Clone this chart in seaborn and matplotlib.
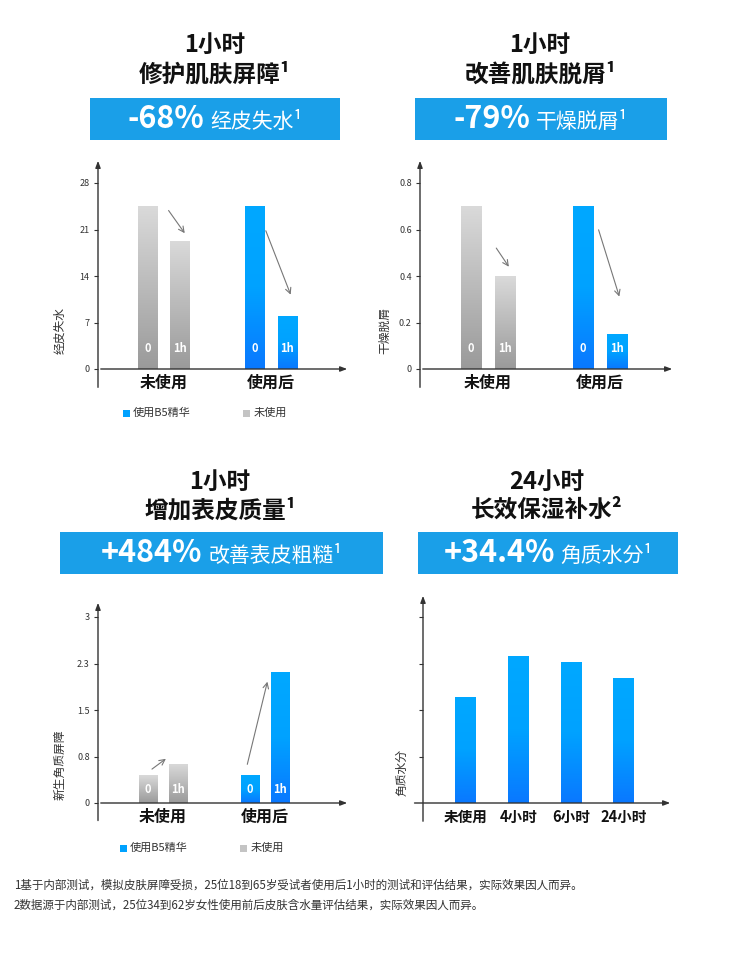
import numpy as np
import pandas as pd
import matplotlib
matplotlib.use("Agg")
import matplotlib.pyplot as plt
from matplotlib import font_manager
import seaborn as sns
from matplotlib.colors import LinearSegmentedColormap
from matplotlib.offsetbox import TextArea, HPacker, AnnotationBbox

_names = sorted({f.name for f in font_manager.fontManager.ttflist if "CJK" in f.name})
_pref = [n for n in ["Noto Sans CJK SC", "Noto Sans CJK JP", "Noto Sans CJK TC",
                     "Noto Sans CJK KR"] if n in _names] + _names
FAMILY = (_pref[:1] if _pref else []) + ["DejaVu Sans"]
plt.rcParams["font.family"] = FAMILY
plt.rcParams["font.sans-serif"] = FAMILY

# ---------------- data ----------------
groups = ["未使用", "使用后"]
times = ["0", "1h"]
tewl_untreated = [24.5, 19.3]
tewl_treated = [24.5, 8.0]
tewl_ticks = [0, 7, 14, 21, 28]
scale_untreated = [0.70, 0.40]
scale_treated = [0.70, 0.15]
scale_ticks = [0, 0.2, 0.4, 0.6, 0.8]
barrier_untreated = [0.45, 0.63]
barrier_treated = [0.45, 2.11]
barrier_ticks = [0, 0.75, 1.5, 2.25, 3]
barrier_ticklabels = ["0", "0.8", "1.5", "2.3", "3"]
hyd_labels = ["未使用", "4小时", "6小时", "24小时"]
hyd_values = [2.28, 3.16, 3.03, 2.69]
hyd_ticks = [1, 2, 3, 4]

W, H = 750, 960
fig = plt.figure(figsize=(7.5, 9.6), dpi=100)
fig.patch.set_facecolor("white")

BANNER = "#1a9fe8"
AXC = "#333333"
gray_cmap = LinearSegmentedColormap.from_list("g", ["#9a9a9a", "#dadada"])
blue_cmap = LinearSegmentedColormap.from_list("b", ["#0a78ff", "#00a2ff", "#00a8ff"])


def fx(x):
    return x / W


def fy(y):
    return 1 - y / H


def make_ax(l, r, zero, top, ymax):
    ax = fig.add_axes([fx(l), fy(zero), (r - l) / W, (zero - top) / H])
    ax.set_facecolor("none")
    return ax


def style_axes(ax, ticks, ticklabels, xlo=0.0, ybelow=0.1):
    for s in ax.spines.values():
        s.set_visible(False)
    ax.annotate("", xy=(0, 1.0), xytext=(0, -ybelow), xycoords="axes fraction",
                arrowprops=dict(arrowstyle="-|>,head_width=0.15,head_length=0.4",
                                color=AXC, lw=1), annotation_clip=False)
    ax.annotate("", xy=(1.0, 0), xytext=(xlo, 0), xycoords="axes fraction",
                arrowprops=dict(arrowstyle="-|>,head_width=0.15,head_length=0.4",
                                color=AXC, lw=1), annotation_clip=False)
    ax.set_yticks(ticks)
    ax.set_yticklabels(ticklabels, fontsize=6.5, color=AXC)
    ax.tick_params(axis="y", length=3, width=0.8, color=AXC, pad=3)
    ax.tick_params(axis="x", length=0, pad=4)
    ax.set_xlabel("")
    ax.set_ylabel("")


def gradient_bars(ax, is_gray):
    grad = np.linspace(0, 1, 256).reshape(-1, 1)
    for p in list(ax.patches):
        w = p.get_width()
        h = p.get_height()
        if w <= 0 or h <= 0:
            continue
        x = p.get_x()
        cmap = gray_cmap if is_gray(x + w / 2) else blue_cmap
        im = ax.imshow(grad, cmap=cmap, extent=[x, x + w, 0, h], origin="lower",
                       aspect="auto", zorder=2)
        im.set_clip_path(p)
        p.set_facecolor("none")
        p.set_edgecolor("none")


def grouped_panel(l, r, zero, top, px_per_unit, c0, spacing, untreated, treated,
                  ticks, ticklabels, label_off_pt, arrows):
    ymax = (zero - top) / px_per_unit
    ax = make_ax(l, r, zero, top, ymax)
    df = pd.DataFrame({
        "group": [groups[0]] * 2 + [groups[1]] * 2,
        "time": times * 2,
        "value": list(untreated) + list(treated),
    })
    sns.barplot(data=df, x="group", y="value", hue="time", order=groups,
                hue_order=times, width=0.6, gap=0.4, dodge=True, legend=False,
                palette=["#cccccc", "#cccccc"], errorbar=None, ax=ax)
    gradient_bars(ax, lambda xc: xc < 0.5)
    for p in ax.patches:
        if p.get_width() <= 0:
            continue
        xc = p.get_x() + p.get_width() / 2
        lab = "0" if (xc - round(xc)) < 0 else "1h"
        ax.annotate(lab, xy=(xc, 0), xytext=(0, label_off_pt), textcoords="offset points",
                    ha="center", va="center", color="white", fontsize=8,
                    fontweight="bold", zorder=5)
    for (x0, y0, x1, y1) in arrows:
        ax.annotate("", xy=(x1, y1), xytext=(x0, y0),
                    arrowprops=dict(arrowstyle="->", color="#777777", lw=0.8), zorder=6)
    ax.set_xlim((l - c0) / spacing, (r - c0) / spacing)
    ax.set_ylim(0, ymax)
    style_axes(ax, ticks, ticklabels)
    ax.set_xticks([0, 1])
    ax.set_xticklabels(groups, fontsize=11.5, fontweight="bold", color="#111111")
    return ax


# panel 1
grouped_panel(98, 350, 369, 158, 186 / 28, 163.75, 107.5, tewl_untreated, tewl_treated,
              tewl_ticks, [str(t) for t in tewl_ticks], 15,
              [(0.03, 24.2, 0.21, 20.1), (0.94, 21.2, 1.19, 10.8)])
# panel 2
grouped_panel(420, 675, 369, 158, 186 / 0.8, 488, 112, scale_untreated, scale_treated,
              scale_ticks, [str(t) for t in scale_ticks], 15,
              [(0.06, 0.53, 0.20, 0.43), (0.98, 0.61, 1.18, 0.30)])
# panel 3
grouped_panel(98, 350, 803, 600, 62, 163, 102, barrier_untreated, barrier_treated,
              barrier_ticks, barrier_ticklabels, 9.5,
              [(-0.13, 0.52, 0.05, 0.74), (0.82, 0.58, 1.03, 2.0)])

# panel 4
l, r, zero, top, ppu = 423, 673, 803, 593, 46.5
ax4 = make_ax(l, r, zero, top, (zero - top) / ppu)
df4 = pd.DataFrame({"t": hyd_labels, "v": hyd_values})
sns.barplot(data=df4, x="t", y="v", order=hyd_labels, width=0.4, color="#00a2ff",
            errorbar=None, ax=ax4)
gradient_bars(ax4, lambda xc: False)
ax4.set_xlim((l - 466) / 52.5, (r - 466) / 52.5)
ax4.set_ylim(0, (zero - top) / ppu)
style_axes(ax4, hyd_ticks, ["" for _ in hyd_ticks], xlo=-0.045, ybelow=0.1)
ax4.set_xticks(range(4))
ax4.set_xticklabels(hyd_labels, fontsize=10.5, fontweight="bold", color="#111111")

# y labels
for (x, y, t) in [(60, 330, "经皮失水"), (385, 330, "干燥脱屑"),
                  (60, 765, "新生角质屏障"), (402, 772, "角质水分")]:
    fig.text(fx(x), fy(y), t, rotation=90, ha="center", va="center", fontsize=8.5,
             color="#333333")

# titles
for (x, y1, y2, t1, t2) in [(215, 45, 75, "1小时", "修护肌肤屏障¹"),
                            (540, 45, 75, "1小时", "改善肌肤脱屑¹"),
                            (220, 482, 510, "1小时", "增加表皮质量¹"),
                            (547, 482, 510, "24小时", "长效保湿补水²")]:
    fig.text(fx(x), fy(y1), t1, ha="center", va="center", fontsize=17,
             fontweight="bold", color="#111111")
    fig.text(fx(x), fy(y2), t2, ha="center", va="center", fontsize=17,
             fontweight="bold", color="#111111")

# banners
for (x0, x1, y0, y1, big, small) in [(90, 340, 98, 140, "-68%", "经皮失水¹"),
                                     (415, 667, 98, 140, "-79%", "干燥脱屑¹"),
                                     (60, 383, 532, 574, "+484%", "改善表皮粗糙¹"),
                                     (418, 678, 532, 574, "+34.4%", "角质水分¹")]:
    fig.patches.append(plt.Rectangle((fx(x0), fy(y1)), (x1 - x0) / W, (y1 - y0) / H,
                                     transform=fig.transFigure, facecolor=BANNER,
                                     edgecolor="none", zorder=1))
    pack = HPacker(children=[
        TextArea(big, textprops=dict(fontsize=22, fontweight="bold", color="white",
                                     family=FAMILY)),
        TextArea(small, textprops=dict(fontsize=15, color="white", family=FAMILY)),
    ], align="baseline", pad=0, sep=4)
    ab = AnnotationBbox(pack, (fx((x0 + x1) / 2), fy((y0 + y1) / 2)),
                        xycoords="figure fraction", frameon=False, zorder=3)
    fig.add_artist(ab)

# legends
for (x, y) in [(123, 413), (120, 848)]:
    fig.patches.append(plt.Rectangle((fx(x), fy(y + 4)), 7 / W, 7 / H,
                                     transform=fig.transFigure, facecolor="#00a2ff",
                                     edgecolor="none"))
    fig.text(fx(x + 10), fy(y), "使用B5精华", ha="left", va="center", fontsize=8,
             color="#333333")
    fig.patches.append(plt.Rectangle((fx(x + 120), fy(y + 4)), 7 / W, 7 / H,
                                     transform=fig.transFigure, facecolor="#c4c4c4",
                                     edgecolor="none"))
    fig.text(fx(x + 131), fy(y), "未使用", ha="left", va="center", fontsize=8,
             color="#333333")

# footnotes
fig.text(fx(14), fy(885), "1基于内部测试，模拟皮肤屏障受损，25位18到65岁受试者使用后1小时的测试和评估结果，实际效果因人而异。",
         ha="left", va="center", fontsize=8.3, color="#333333")
fig.text(fx(14), fy(905), "2数据源于内部测试，25位34到62岁女性使用前后皮肤含水量评估结果，实际效果因人而异。",
         ha="left", va="center", fontsize=8.3, color="#333333")

fig.savefig("out.png", dpi=100, facecolor="white")
